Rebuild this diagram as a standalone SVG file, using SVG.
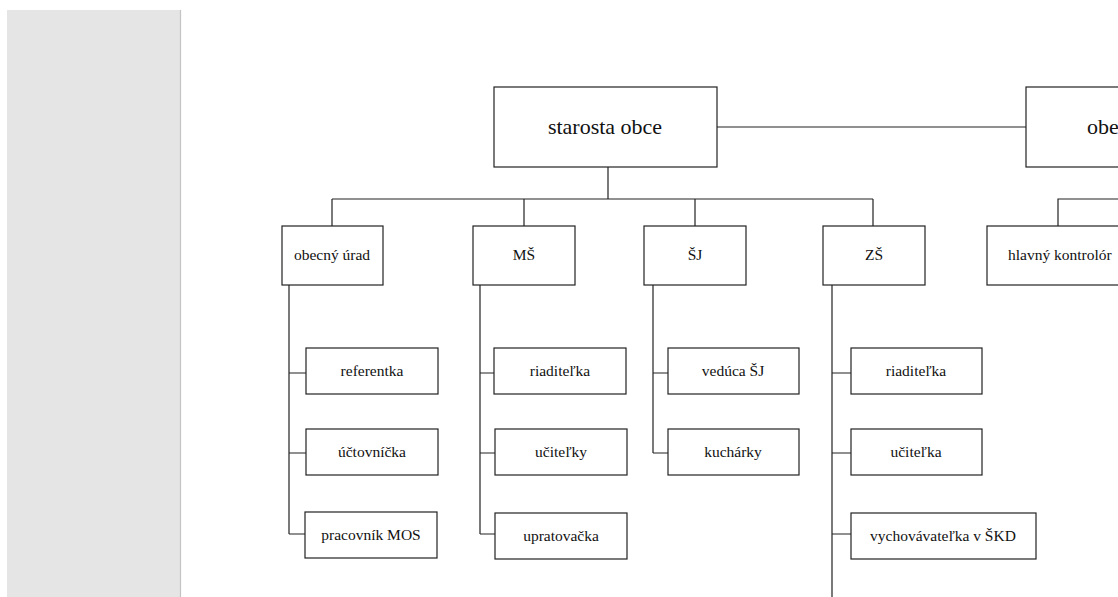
<svg xmlns="http://www.w3.org/2000/svg" width="1118" height="597" viewBox="0 0 1118 597">
<style>
.box{fill:#fff;stroke:#222;stroke-width:1.2}
.ln{fill:none;stroke:#222;stroke-width:1.2}
text{font-family:'Liberation Serif','Times New Roman',Times,serif;font-size:15.5px;fill:#111;text-anchor:middle}
.big{font-size:22px}
.st{text-anchor:start}
</style>
<rect x="0" y="0" width="1118" height="597" fill="#fff"/>
<rect x="7" y="10" width="173" height="587" fill="#e5e5e5"/>
<line x1="180.5" y1="10" x2="180.5" y2="597" stroke="#c4c4c4" stroke-width="1.2"/>
<g id="connectors">
<path class="ln" d="M717 127H1026"/>
<path class="ln" d="M608 167V199M332 199H873M332 199V226M524 199V226M695 199V226M873 199V226"/>
<path class="ln" d="M1058 226V199H1118"/>
<path class="ln" d="M289 285V534M289 373H306M289 453H306M289 534H305"/>
<path class="ln" d="M480 285V534M480 373H494M480 453H495M480 534H495"/>
<path class="ln" d="M653 285V453M653 373H668M653 453H668"/>
<path class="ln" d="M832 285V597M832 373H851M832 453H851M832 534H851"/>
</g>
<g id="starosta"><rect class="box" x="494" y="87" width="223" height="80"/><text class="big" x="605" y="134">starosta obce</text></g>
<g id="obec"><rect class="box" x="1026" y="87" width="100" height="80"/><text class="big st" x="1087" y="134">obe</text></g>
<g id="kontrolor"><rect class="box" x="987" y="226" width="140" height="59"/><text class="st" x="1008" y="260">hlavný kontrolór</text></g>
<g id="urad"><rect class="box" x="282" y="226" width="101" height="59"/><text x="332" y="260">obecný úrad</text></g>
<g id="ms"><rect class="box" x="473" y="226" width="102" height="59"/><text x="524" y="260">MŠ</text></g>
<g id="sj"><rect class="box" x="644" y="226" width="102" height="59"/><text x="695" y="260">ŠJ</text></g>
<g id="zs"><rect class="box" x="823" y="226" width="102" height="59"/><text x="874" y="260">ZŠ</text></g>
<g id="referentka"><rect class="box" x="306" y="348" width="132" height="46"/><text x="372" y="376">referentka</text></g>
<g id="uctovnicka"><rect class="box" x="306" y="429" width="132" height="46"/><text x="372" y="457">účtovníčka</text></g>
<g id="mos"><rect class="box" x="305" y="512" width="132" height="46"/><text x="371" y="540">pracovník MOS</text></g>
<g id="ms-riaditelka"><rect class="box" x="494" y="348" width="132" height="46"/><text x="560" y="376">riaditeľka</text></g>
<g id="ucitelky"><rect class="box" x="495" y="429" width="132" height="46"/><text x="561" y="457">učiteľky</text></g>
<g id="upratovacka"><rect class="box" x="495" y="513" width="132" height="46"/><text x="561" y="541">upratovačka</text></g>
<g id="veduca"><rect class="box" x="668" y="348" width="131" height="46"/><text x="733" y="376">vedúca ŠJ</text></g>
<g id="kucharky"><rect class="box" x="668" y="429" width="131" height="46"/><text x="733" y="457">kuchárky</text></g>
<g id="zs-riaditelka"><rect class="box" x="851" y="348" width="131" height="46"/><text x="916" y="376">riaditeľka</text></g>
<g id="ucitelka"><rect class="box" x="851" y="429" width="131" height="46"/><text x="916" y="457">učiteľka</text></g>
<g id="vychovavatelka"><rect class="box" x="851" y="513" width="185" height="46"/><text x="943" y="541">vychovávateľka v ŠKD</text></g>
</svg>
